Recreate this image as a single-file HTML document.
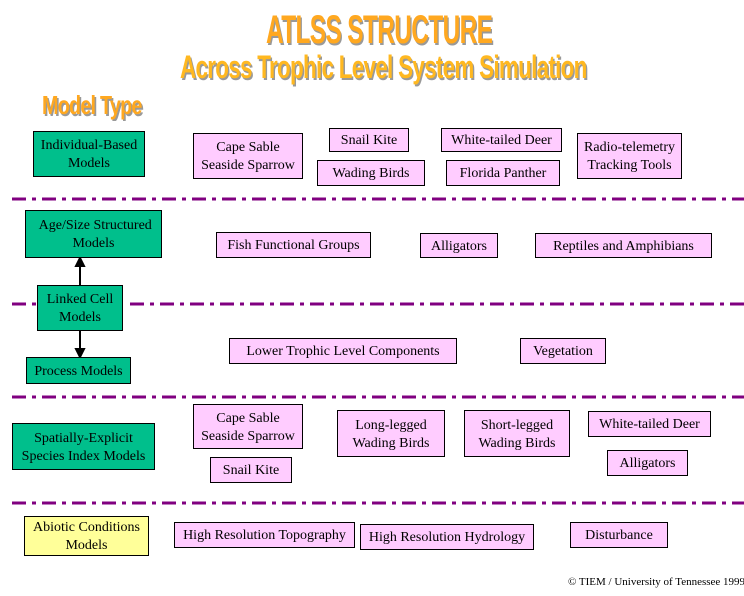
<!DOCTYPE html>
<html><head><style>
body{margin:0;width:744px;height:596px;background:#fff;position:relative;overflow:hidden;font-family:"Liberation Serif",serif;}
.b{position:absolute;box-sizing:border-box;border:1px solid #000;font-size:14px;line-height:18px;text-align:center;color:#000;display:flex;align-items:center;justify-content:center;white-space:nowrap;padding-top:2px;}
.g{background:#00bf8c;}
.p{background:#ffccff;}
.y{background:#ffff99;}
.t{position:absolute;font-family:"Liberation Sans Narrow","Liberation Sans",sans-serif;font-weight:bold;color:#ffa820;text-shadow:2px 2px 0 #999;white-space:nowrap;transform-origin:0 0;letter-spacing:-1px;}
</style></head><body>
<div class="t" style="left:266px;top:8px;font-size:40px;transform:scaleX(0.61)">ATLSS STRUCTURE</div>
<div class="t" style="left:180px;top:49px;font-size:32px;color:#ffb820;transform:scaleX(0.70)">Across Trophic Level System Simulation</div>
<div class="t" style="left:42px;top:90px;font-size:26px;color:#ffa820;transform:scaleX(0.76)">Model Type</div>

<svg style="position:absolute;left:0;top:0" width="744" height="596">
<g stroke="#800080" stroke-width="3" stroke-dasharray="14,6,4,6">
<line x1="12" y1="199" x2="744" y2="199"/>
<line x1="12" y1="304" x2="36" y2="304"/>
<line x1="130" y1="304" x2="744" y2="304"/>
<line x1="12" y1="397" x2="744" y2="397"/>
<line x1="12" y1="503" x2="744" y2="503"/>
</g>
<g stroke="#000" stroke-width="2" fill="#000">
<line x1="80" y1="265" x2="80" y2="285"/>
<polygon points="76,266 84,266 80,258"/>
<line x1="80" y1="331" x2="80" y2="350"/>
<polygon points="76,349 84,349 80,357"/>
</g>
</svg>

<div class="b g" style="left:33px;top:131px;width:112px;height:46px">Individual-Based<br>Models</div>
<div class="b p" style="left:193px;top:133px;width:110px;height:46px">Cape Sable<br>Seaside Sparrow</div>
<div class="b p" style="left:329px;top:128px;width:80px;height:24px">Snail Kite</div>
<div class="b p" style="left:441px;top:128px;width:121px;height:24px">White-tailed Deer</div>
<div class="b p" style="left:317px;top:160px;width:108px;height:26px">Wading Birds</div>
<div class="b p" style="left:446px;top:160px;width:114px;height:26px">Florida Panther</div>
<div class="b p" style="left:577px;top:133px;width:105px;height:46px">Radio-telemetry<br>Tracking Tools</div>

<div class="b g" style="left:25px;top:210px;width:137px;height:48px">&nbsp;Age/Size Structured<br>Models</div>
<div class="b p" style="left:216px;top:232px;width:155px;height:26px">Fish Functional Groups</div>
<div class="b p" style="left:420px;top:233px;width:78px;height:25px">Alligators</div>
<div class="b p" style="left:535px;top:233px;width:177px;height:25px">Reptiles and Amphibians</div>

<div class="b g" style="left:37px;top:285px;width:86px;height:46px">Linked Cell<br>Models</div>
<div class="b p" style="left:229px;top:338px;width:228px;height:26px">Lower Trophic Level Components</div>
<div class="b p" style="left:520px;top:338px;width:86px;height:26px">Vegetation</div>
<div class="b g" style="left:26px;top:357px;width:105px;height:27px">Process Models</div>

<div class="b g" style="left:12px;top:423px;width:143px;height:47px">Spatially-Explicit<br>Species Index Models</div>
<div class="b p" style="left:193px;top:404px;width:110px;height:45px">Cape Sable<br>Seaside Sparrow</div>
<div class="b p" style="left:337px;top:410px;width:108px;height:47px">Long-legged<br>Wading Birds</div>
<div class="b p" style="left:464px;top:410px;width:106px;height:47px">Short-legged<br>Wading Birds</div>
<div class="b p" style="left:588px;top:411px;width:123px;height:26px">White-tailed Deer</div>
<div class="b p" style="left:607px;top:450px;width:81px;height:26px">Alligators</div>
<div class="b p" style="left:210px;top:457px;width:82px;height:26px">Snail Kite</div>

<div class="b y" style="left:24px;top:516px;width:125px;height:40px">Abiotic Conditions<br>Models</div>
<div class="b p" style="left:174px;top:522px;width:181px;height:26px">High Resolution Topography</div>
<div class="b p" style="left:360px;top:524px;width:174px;height:26px">High Resolution Hydrology</div>
<div class="b p" style="left:570px;top:522px;width:98px;height:26px">Disturbance</div>

<div style="position:absolute;left:568px;top:576px;font-size:11px;white-space:nowrap">© TIEM / University of Tennessee 1999</div>
</body></html>
